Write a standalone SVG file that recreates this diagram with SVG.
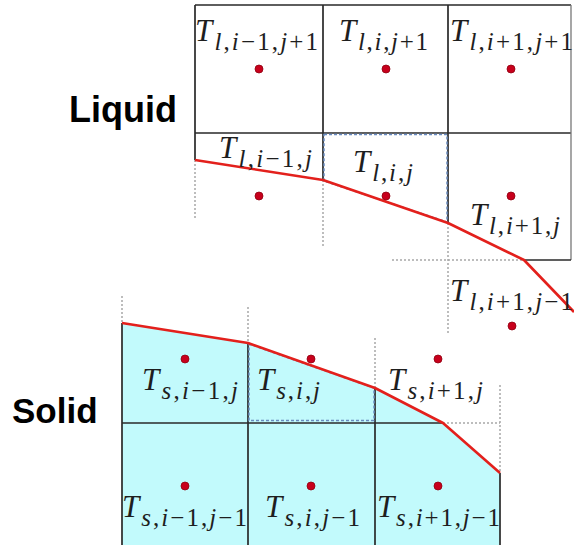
<svg xmlns="http://www.w3.org/2000/svg" width="574" height="545" viewBox="0 0 574 545">
<style>
.bg{fill:#ffffff}
.g{stroke:#2a2a2a;stroke-width:1.7;fill:none}
.gl{stroke:#777;stroke-width:1.3;fill:none}
.d{stroke:#a8a8a8;stroke-width:1.5;stroke-dasharray:2 2;fill:none}
.b{stroke:#6a8cc0;stroke-width:1.5;stroke-dasharray:3 2;fill:none}
.r{stroke:#e3201c;stroke-width:2.6;fill:none;stroke-linejoin:round}
.c{fill:#c2fafc}
.dot{fill:#c8001c;stroke:#900010;stroke-width:0.8}
.m{font-family:"Liberation Serif","DejaVu Serif",serif;fill:#1e1e1e}
.T{font-style:italic;font-size:31px}
.s{font-size:25px}
.it{font-style:italic}
.lab{font-family:"Liberation Sans",Arial,sans-serif;font-weight:bold;fill:#000}
</style>
<rect class="bg" x="0" y="0" width="574" height="545"/>
<polygon class="c" points="122,323 248,343 375,388 443,423 500,473 500,545 122,545"/>
<g id="grid">
  <path class="g" d="M195,5H571M195,133H571M195,5V160M323,5V180M448,5V223"/>
  <path class="gl" d="M571,5V260"/>
  <path class="g" d="M524,260H571"/>
  <path class="d" d="M195,160V218M323,180V246M448,223V333M392,260H524"/>
  <path class="g" d="M122,323V545M248,343V545M375,388V545M500,473V545M122,423H443"/>
  <path class="d" d="M122,296V323M248,307V343M375,338V388M500,385V473M443,423H500"/>
</g>
<g id="highlight">
  <polygon class="b" points="324,134.5 447,134.5 447,222 324,181"/>
  <polygon class="b" points="249,344 374,388 374,420.5 249,420.5"/>
</g>
<g id="connectors">
  <polyline class="r" points="195,160 323,180 448,223 524,260 574,312"/>
  <polyline class="r" points="122,323 248,343 375,388 443,423 500,473"/>
</g>
<g id="l-im1-jp1"><circle class="dot" cx="259" cy="69" r="4"/><text class="m" x="195" y="41" textLength="123" lengthAdjust="spacing"><tspan class="T">T</tspan><tspan class="s" dy="9"><tspan class="it">l</tspan>,<tspan class="it">i</tspan>−1,<tspan class="it">j</tspan>+1</tspan></text></g>
<g id="l-i-jp1"><circle class="dot" cx="386" cy="69" r="4"/><text class="m" x="339" y="41" textLength="89" lengthAdjust="spacing"><tspan class="T">T</tspan><tspan class="s" dy="9"><tspan class="it">l</tspan>,<tspan class="it">i</tspan>,<tspan class="it">j</tspan>+1</tspan></text></g>
<g id="l-ip1-jp1"><circle class="dot" cx="511" cy="69" r="4"/><text class="m" x="450" y="41" textLength="123" lengthAdjust="spacing"><tspan class="T">T</tspan><tspan class="s" dy="9"><tspan class="it">l</tspan>,<tspan class="it">i</tspan>+1,<tspan class="it">j</tspan>+1</tspan></text></g>
<g id="l-im1-j"><circle class="dot" cx="259" cy="196" r="4"/><text class="m" x="219" y="158" textLength="93" lengthAdjust="spacing"><tspan class="T">T</tspan><tspan class="s" dy="9"><tspan class="it">l</tspan>,<tspan class="it">i</tspan>−1,<tspan class="it">j</tspan></tspan></text></g>
<g id="l-i-j"><circle class="dot" cx="386" cy="196" r="4"/><text class="m" x="353" y="172" textLength="60" lengthAdjust="spacing"><tspan class="T">T</tspan><tspan class="s" dy="9"><tspan class="it">l</tspan>,<tspan class="it">i</tspan>,<tspan class="it">j</tspan></tspan></text></g>
<g id="l-ip1-j"><circle class="dot" cx="511" cy="196" r="4"/><text class="m" x="470" y="225" textLength="90" lengthAdjust="spacing"><tspan class="T">T</tspan><tspan class="s" dy="9"><tspan class="it">l</tspan>,<tspan class="it">i</tspan>+1,<tspan class="it">j</tspan></tspan></text></g>
<g id="l-ip1-jm1"><circle class="dot" cx="512" cy="326" r="4"/><text class="m" x="450" y="301" textLength="123" lengthAdjust="spacing"><tspan class="T">T</tspan><tspan class="s" dy="9"><tspan class="it">l</tspan>,<tspan class="it">i</tspan>+1,<tspan class="it">j</tspan>−1</tspan></text></g>
<g id="s-im1-j"><circle class="dot" cx="185" cy="359" r="4"/><text class="m" x="142" y="390" textLength="96" lengthAdjust="spacing"><tspan class="T">T</tspan><tspan class="s" dy="9"><tspan class="it">s</tspan>,<tspan class="it">i</tspan>−1,<tspan class="it">j</tspan></tspan></text></g>
<g id="s-i-j"><circle class="dot" cx="311" cy="359" r="4"/><text class="m" x="257" y="390" textLength="63" lengthAdjust="spacing"><tspan class="T">T</tspan><tspan class="s" dy="9"><tspan class="it">s</tspan>,<tspan class="it">i</tspan>,<tspan class="it">j</tspan></tspan></text></g>
<g id="s-ip1-j"><circle class="dot" cx="438" cy="359" r="4"/><text class="m" x="388" y="390" textLength="95" lengthAdjust="spacing"><tspan class="T">T</tspan><tspan class="s" dy="9"><tspan class="it">s</tspan>,<tspan class="it">i</tspan>+1,<tspan class="it">j</tspan></tspan></text></g>
<g id="s-im1-jm1"><circle class="dot" cx="185" cy="486" r="4"/><text class="m" x="122" y="517" textLength="125" lengthAdjust="spacing"><tspan class="T">T</tspan><tspan class="s" dy="9"><tspan class="it">s</tspan>,<tspan class="it">i</tspan>−1,<tspan class="it">j</tspan>−1</tspan></text></g>
<g id="s-i-jm1"><circle class="dot" cx="311" cy="486" r="4"/><text class="m" x="265" y="517" textLength="95" lengthAdjust="spacing"><tspan class="T">T</tspan><tspan class="s" dy="9"><tspan class="it">s</tspan>,<tspan class="it">i</tspan>,<tspan class="it">j</tspan>−1</tspan></text></g>
<g id="s-ip1-jm1"><circle class="dot" cx="438" cy="486" r="4"/><text class="m" x="377" y="517" textLength="123" lengthAdjust="spacing"><tspan class="T">T</tspan><tspan class="s" dy="9"><tspan class="it">s</tspan>,<tspan class="it">i</tspan>+1,<tspan class="it">j</tspan>−1</tspan></text></g>
<g id="label-liquid"><text class="lab" x="177" y="122" font-size="36" text-anchor="end">Liquid</text></g>
<g id="label-solid"><text class="lab" x="12" y="423" font-size="35">Solid</text></g>
</svg>
